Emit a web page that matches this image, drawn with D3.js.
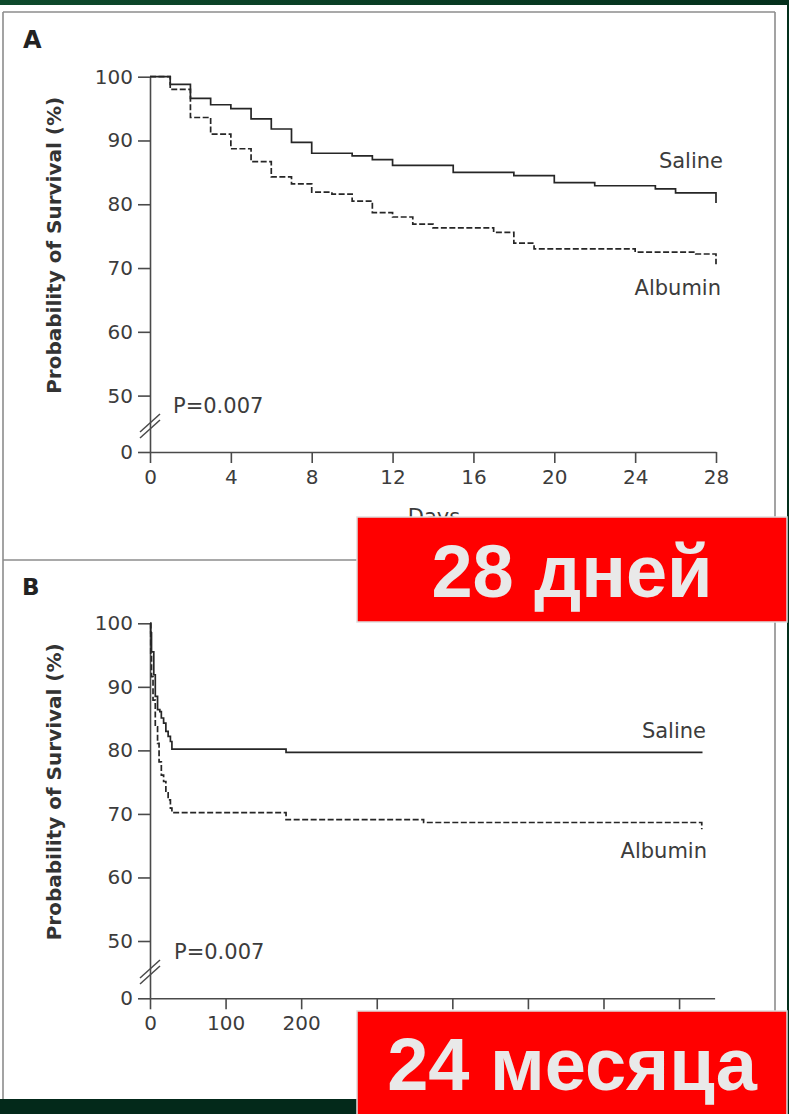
<!DOCTYPE html>
<html>
<head>
<meta charset="utf-8">
<script src="https://cdn.jsdelivr.net/npm/d3@7"></script>
<style>
  html, body { margin: 0; padding: 0; background: #ffffff; }
  svg { display: block; }
</style>
</head>
<body>
<script>
// ---------------- DATA ----------------
// Panel A: 28-day Kaplan-Meier (days, survival %)
const salineA_days = [0, 1, 2, 3, 4, 5, 6, 7, 8, 10, 11, 12, 15, 18, 20, 22, 25, 26, 28];
const salineA_surv = [100, 98.8, 96.6, 95.6, 95.0, 93.4, 91.8, 89.7, 88.0, 87.6, 87.0, 86.1, 85.0, 84.5, 83.4, 82.9, 82.4, 81.8, 80.2];
const albuminA_days = [0, 1, 2, 3, 4, 5, 6, 7, 8, 9, 10, 11, 12, 13, 14, 17, 18, 19, 24, 27, 28];
const albuminA_surv = [100, 98.0, 93.6, 91.0, 88.7, 86.7, 84.3, 83.2, 81.9, 81.6, 80.5, 78.7, 78.0, 76.9, 76.3, 75.6, 73.9, 73.0, 72.5, 72.2, 70.6];

// Panel B: 24-month Kaplan-Meier (days, survival %)
const salineB_days = [0, 1, 2, 5, 7, 10, 13, 15, 18, 21, 24, 27, 29, 180, 731];
const salineB_surv = [100, 98.5, 95.5, 91.9, 88.5, 86.4, 86.1, 85.1, 84.3, 83.0, 82.2, 81.4, 80.2, 79.7, 79.7];
const albuminB_days = [0, 1, 2, 4, 7, 10, 12, 15, 18, 21, 24, 27, 29, 180, 362, 730];
const albuminB_surv = [100, 95.0, 91.6, 87.9, 83.7, 81.1, 78.2, 76.1, 75.1, 73.3, 72.2, 70.9, 70.2, 69.1, 68.65, 67.6];

// Tick values and their visible labels (labels under the banner are not shown in the reference)
const survTicks = [0, 50, 60, 70, 80, 90, 100];
const daysTicksA = [0, 4, 8, 12, 16, 20, 24, 28];
const daysLabelsA = ["0", "4", "8", "12", "16", "20", "24", "28"];
const daysTicksB = [0, 100, 200, 300, 400, 500, 600, 700];
const daysLabelsB = ["0", "100", "200", "", "", "", "", ""];

// Texts
const panelLabels = ["A", "B"];
const seriesNames = ["Saline", "Albumin"];
const yTitle = "Probability of Survival (%)";
const xTitleA = "Days";
const pText = "P=0.007";
const bannerTexts = ["28 дней", "24 месяца"];

// ---------------- DRAW ----------------
const W = 789, H = 1114;
const svg = d3.select("body").append("svg").attr("width", W).attr("height", H);

const FONT = "'DejaVu Sans', sans-serif";
const AXIS_COL = "#4a4a4a";
const TEXT_COL = "#3c3c3c";
const LINE_COL = "#262626";

// frame decorations
const defs = svg.append("defs");
const grad = defs.append("linearGradient").attr("id", "gband").attr("x1", "0").attr("x2", "1");
grad.append("stop").attr("offset", "0").attr("stop-color", "#0e4a2c");
grad.append("stop").attr("offset", "1").attr("stop-color", "#04301c");

svg.append("rect").attr("x", 0).attr("y", 0).attr("width", W).attr("height", 5).attr("fill", "url(#gband)");
svg.append("rect").attr("x", 787).attr("y", 0).attr("width", 2).attr("height", H).attr("fill", "#04301c");
svg.append("rect").attr("x", 0).attr("y", 1099).attr("width", W).attr("height", 15).attr("fill", "#03291a");

// panel borders
const border = svg.append("g").attr("stroke", "#8c8c8c").attr("stroke-width", 1.6).attr("fill", "none");
border.append("line").attr("x1", 3).attr("x2", 3).attr("y1", 12).attr("y2", 1099);
border.append("line").attr("x1", 775).attr("x2", 775).attr("y1", 12).attr("y2", 1099);
border.append("line").attr("x1", 3).attr("x2", 775).attr("y1", 12).attr("y2", 12);
border.append("line").attr("x1", 3).attr("x2", 775).attr("y1", 560).attr("y2", 560);

function panel(cfg) {
  const g = svg.append("g");
  const { x, y } = cfg;

  // panel letter
  g.append("text").attr("x", cfg.letterX).attr("y", cfg.letterY)
    .attr("font-family", FONT).attr("font-weight", "bold").attr("font-size", cfg.letterSize)
    .attr("fill", "#222").text(cfg.letter);

  // y axis
  const ya = g.append("g").attr("transform", `translate(${x.range()[0]},0)`)
    .call(d3.axisLeft(y).tickValues(survTicks).tickSize(12).tickPadding(5).tickSizeOuter(0));
  // x axis
  const xa = g.append("g").attr("transform", `translate(0,${y(0)})`)
    .call(d3.axisBottom(x).tickValues(cfg.xTicks)
      .tickFormat((d, i) => cfg.xLabels[i])
      .tickSize(11).tickPadding(7).tickSizeOuter(0));
  [ya, xa].forEach(a => {
    a.selectAll("path, line").attr("stroke", AXIS_COL).attr("stroke-width", 1.6);
    a.selectAll("text").attr("font-family", FONT).attr("font-size", 20).attr("fill", TEXT_COL);
  });

  // axis break marks
  const bx = x.range()[0], byc = y(23);
  [-3, 3].forEach(off => {
    g.append("line")
      .attr("x1", bx - 10).attr("y1", byc + off + 9)
      .attr("x2", bx + 10).attr("y2", byc + off - 9)
      .attr("stroke", AXIS_COL).attr("stroke-width", 1.5);
  });

  // y title
  g.append("text")
    .attr("transform", `translate(61,${(y(0) + y(100)) / 2 - 19}) rotate(-90)`)
    .attr("text-anchor", "middle")
    .attr("font-family", FONT).attr("font-weight", "bold").attr("font-size", 20)
    .attr("fill", "#333").text(yTitle);

  // x title
  if (cfg.xTitle) {
    g.append("text").attr("x", (x.range()[0] + x.range()[1]) / 2 + 1).attr("y", y(0) + 72)
      .attr("text-anchor", "middle").attr("font-family", FONT).attr("font-size", 21)
      .attr("fill", TEXT_COL).text(cfg.xTitle);
  }

  // curves
  const line = d3.line().x(d => x(d[0])).y(d => y(d[1])).curve(d3.curveStepAfter);
  cfg.series.forEach(s => {
    const pts = s.days.map((d, i) => [d, s.surv[i]]);
    g.append("path").datum(pts).attr("d", line)
      .attr("fill", "none").attr("stroke", LINE_COL).attr("stroke-width", 1.7)
      .attr("stroke-dasharray", s.dashed ? "6,2.5" : null);
  });

  // series labels
  cfg.labels.forEach(l => {
    g.append("text").attr("x", l.x).attr("y", l.y).attr("text-anchor", "end")
      .attr("font-family", FONT).attr("font-size", 21).attr("fill", TEXT_COL).text(l.text);
  });

  // p value
  g.append("text").attr("x", cfg.pX).attr("y", cfg.pY)
    .attr("font-family", FONT).attr("font-size", 21).attr("fill", TEXT_COL).text(pText);
}

// Panel A
const xA = d3.scaleLinear().domain([0, 28]).range([150, 716]);
const yA = d3.scaleLinear().domain([0, 50, 100]).range([452, 395.6, 76.7]);
panel({
  letter: panelLabels[0], letterX: 23, letterY: 48, letterSize: 24,
  x: xA, y: yA, xTicks: daysTicksA, xLabels: daysLabelsA, xTitle: xTitleA,
  series: [
    { days: salineA_days, surv: salineA_surv, dashed: false },
    { days: albuminA_days, surv: albuminA_surv, dashed: true }
  ],
  labels: [
    { text: seriesNames[0], x: 723, y: 168 },
    { text: seriesNames[1], x: 721, y: 295 }
  ],
  pX: 173, pY: 413
});

// Panel B
const xB = d3.scaleLinear().domain([0, 747]).range([150, 714.6]);
const yB = d3.scaleLinear().domain([0, 50, 100]).range([998.3, 941, 623.3]);
panel({
  letter: panelLabels[1], letterX: 22, letterY: 595, letterSize: 23,
  x: xB, y: yB, xTicks: daysTicksB, xLabels: daysLabelsB, xTitle: null,
  series: [
    { days: salineB_days, surv: salineB_surv, dashed: false },
    { days: albuminB_days, surv: albuminB_surv, dashed: true }
  ],
  labels: [
    { text: seriesNames[0], x: 706, y: 738 },
    { text: seriesNames[1], x: 707, y: 858 }
  ],
  pX: 174, pY: 959
});

// red banners
const banners = [
  { x: 357, y: 517, w: 430, h: 105, ty: 597, text: bannerTexts[0] },
  { x: 357, y: 1011, w: 430, h: 110, ty: 1090, text: bannerTexts[1] }
];
banners.forEach(b => {
  svg.append("rect").attr("x", b.x).attr("y", b.y).attr("width", b.w).attr("height", b.h)
    .attr("fill", "#ff0000").attr("stroke", "#dedede").attr("stroke-width", 1.5);
  svg.append("text").attr("x", b.x + b.w / 2).attr("y", b.ty).attr("text-anchor", "middle")
    .attr("font-family", "'Liberation Sans', Arial, sans-serif").attr("font-weight", "bold")
    .attr("font-size", 74).attr("fill", "#e9e9e9").text(b.text);
});
</script>
</body>
</html>
